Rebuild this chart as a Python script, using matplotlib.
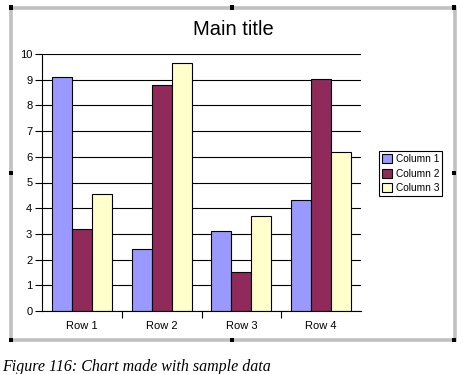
import numpy as np
import matplotlib.pyplot as plt
from matplotlib.patches import Rectangle

# data
rows = ['Row 1', 'Row 2', 'Row 3', 'Row 4']
column_1 = [9.1, 2.4, 3.1, 4.3]
column_2 = [3.2, 8.8, 1.5, 9.02]
column_3 = [4.54, 9.65, 3.7, 6.2]
series_names = ['Column 1', 'Column 2', 'Column 3']
y_ticks = list(range(0, 11))

colors = ['#9999ff', '#902a5a', '#ffffcc']

W, H = 464, 374
fig = plt.figure(figsize=(W / 100, H / 100), dpi=100)
fig.patch.set_facecolor('white')

def fx(px):
    return px / W

def fy(py):
    return 1 - py / H

ax = fig.add_axes([fx(42), fy(311), fx(361) - fx(42), fy(54) - fy(311)])

x = np.arange(len(rows))
width = 0.25
for i, (vals, name) in enumerate(zip([column_1, column_2, column_3], series_names)):
    ax.bar(x + (i - 1) * width, vals, width, color=colors[i], edgecolor='black',
           linewidth=0.8, label=name, zorder=3)

ax.set_xlim(-0.5, len(rows) - 0.5)
ax.set_ylim(0, 10)
ax.set_yticks(y_ticks)
ax.set_yticklabels([str(t) for t in y_ticks], fontsize=8, family='Liberation Sans')
ax.set_xticks(x)
ax.set_xticklabels(rows, fontsize=8, family='Liberation Sans')
ax.set_xticks(np.arange(0.5, len(rows) - 0.5, 1), minor=True)
ax.tick_params(axis='x', which='major', length=0, pad=7)
ax.tick_params(axis='x', which='minor', length=5, width=0.8, direction='out')
ax.tick_params(axis='y', length=5, width=0.8, direction='out', pad=2)

ax.yaxis.grid(True, color='black', linewidth=0.8)
ax.set_axisbelow(True)
for s in ['top', 'right']:
    ax.spines[s].set_visible(False)
for s in ['left', 'bottom']:
    ax.spines[s].set_linewidth(0.8)
    ax.spines[s].set_zorder(4)

fig.text(fx(233), fy(35), 'Main title', ha='center', va='baseline',
         fontsize=14.5, family='Liberation Sans')

leg = fig.legend(loc='upper left', bbox_to_anchor=(fx(379), fy(151)),
                 bbox_transform=fig.transFigure, prop={'family': 'Liberation Sans', 'size': 7.3},
                 frameon=True, fancybox=False, edgecolor='black', framealpha=1,
                 handlelength=1.0, handleheight=1.0, handletextpad=0.35,
                 labelspacing=0.45, borderpad=0.3, borderaxespad=0)
leg.get_frame().set_linewidth(0.8)

# grey selection frame with the black handles
left, right, top, bottom = 11, 454.5, 7.5, 339.5
fig.add_artist(Rectangle((fx(left), fy(bottom)), fx(right) - fx(left), fy(top) - fy(bottom),
                         transform=fig.transFigure, fill=False, edgecolor='#c0c0c0',
                         linewidth=2.6))
hs = 4
for hx in [left, 232, right]:
    for hy in [top, 173, bottom]:
        if hx == 232 and hy == 173:
            continue
        fig.add_artist(Rectangle((fx(hx - hs / 2), fy(hy + hs / 2)), fx(hs), hs / H,
                                 transform=fig.transFigure, color='black', linewidth=0))

fig.text(fx(2), fy(371), 'Figure 116: Chart made with sample data', ha='left',
         va='baseline', fontsize=11.5, family='Liberation Serif', style='italic')

fig.savefig('out.png', dpi=100)
